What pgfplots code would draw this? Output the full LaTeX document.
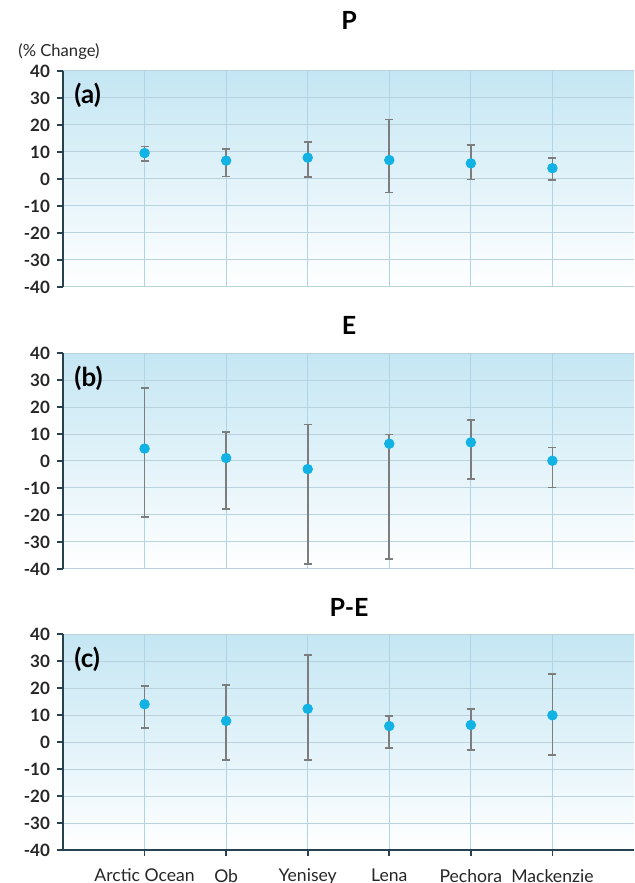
\documentclass[border=0pt]{standalone}
\usepackage{fontspec}
\setmainfont{Lato}
\usepackage{pgfplots}
\usepackage{pgfplotstable}
\pgfplotsset{compat=1.18}

\definecolor{bgtop}{RGB}{196,230,243}
\definecolor{bgmid}{RGB}{228,242,248}
\definecolor{hgrid}{RGB}{185,210,222}
\definecolor{vgrid}{RGB}{175,212,232}
\definecolor{dotc}{RGB}{18,178,228}
\definecolor{errc}{RGB}{125,125,125}
\definecolor{axc}{RGB}{40,65,80}
\definecolor{zeroc}{RGB}{135,135,135}

\pgfplotstableread{
x y lo hi
0 9.6 6.7 12.0
1 6.8 0.9 11.0
2 7.9 0.6 13.8
3 7.0 -5.0 22.0
4 5.8 -0.2 12.6
5 4.0 -0.4 7.9
}\Pdata
\pgfplotstableread{
x y lo hi
0 4.6 -20.8 27.1
1 1.1 -17.8 10.6
2 -3.0 -38.2 13.5
3 6.4 -36.2 9.8
4 6.9 -6.7 15.1
5 0.1 -9.8 5.0
}\Edata
\pgfplotstableread{
x y lo hi
0 14.0 5.1 20.7
1 7.8 -6.8 21.0
2 12.3 -6.8 32.2
3 5.9 -2.1 9.6
4 6.3 -3.0 12.1
5 9.9 -4.8 25.3
}\PEdata

\pgfplotsset{panel/.style={
  scale only axis, width=285.5pt, height=108pt,
  xmin=-1, xmax=6, ymin=-40, ymax=40,
  xtick={0,1,2,3,4,5}, ytick={-40,-30,-20,-10,0,10,20,30,40},
  yticklabels={-40,-30,-20,-10,0,10,20,30,40},
  grid=major,
  x grid style={vgrid, line width=0.45pt},
  y grid style={hgrid, line width=0.5pt},
  axis line style={draw=none},
  tick align=outside,
  ytick pos=left, xtick pos=bottom,
  major tick length=3pt,
  tick style={axc, line width=0.9pt},
  yticklabel style={font=\fontsize{8.5}{9}\selectfont\bfseries, text=black!85},
  xticklabel style={font=\fontsize{8.8}{10}\selectfont, text=black!85, yshift=-3pt},
  axis background/.style={shade, top color=bgtop, middle color=bgmid, bottom color=white},
  extra y ticks={0}, extra y tick labels={},
  extra tick style={grid style={zeroc, line width=1pt}, major tick length=0pt},
  clip=false,
}}
\pgfplotsset{pts/.style={only marks, mark=*, mark size=2.4pt, color=dotc,
  mark options={draw=none, fill=dotc},
  error bars/.cd, y dir=both, y explicit,
  error bar style={errc, line width=0.9pt},
  error mark options={rotate=90, errc, mark size=2pt, line width=0.9pt}}}

\begin{document}
\begin{tikzpicture}
% (a)
\begin{axis}[panel, at={(31.5pt,-35.5pt)}, anchor=north west,
  xticklabels={}, x tick style={draw=none}]
\addplot[pts] table[x=x, y=y, y error plus expr=\thisrow{hi}-\thisrow{y}, y error minus expr=\thisrow{y}-\thisrow{lo}] \Pdata;
\draw[axc, line width=1pt] (rel axis cs:0,0) -- (rel axis cs:0,1);
\node[anchor=west, inner sep=0, xshift=5.5pt, yshift=-12pt, font=\fontsize{13}{14}\selectfont\bfseries] at (rel axis cs:0,1) {(a)};
\end{axis}
% (b)
\begin{axis}[panel, at={(31.5pt,-176.5pt)}, anchor=north west,
  xticklabels={}, x tick style={draw=none}]
\addplot[pts] table[x=x, y=y, y error plus expr=\thisrow{hi}-\thisrow{y}, y error minus expr=\thisrow{y}-\thisrow{lo}] \Edata;
\draw[axc, line width=1pt] (rel axis cs:0,0) -- (rel axis cs:0,1);
\node[anchor=west, inner sep=0, xshift=5.5pt, yshift=-12.5pt, font=\fontsize{13}{14}\selectfont\bfseries] at (rel axis cs:0,1) {(b)};
\end{axis}
% (c)
\begin{axis}[panel, at={(31.5pt,-317pt)}, anchor=north west,
  xticklabels={Arctic Ocean,Ob,Yenisey,Lena,Pechora,Mackenzie}]
\addplot[pts] table[x=x, y=y, y error plus expr=\thisrow{hi}-\thisrow{y}, y error minus expr=\thisrow{y}-\thisrow{lo}] \PEdata;
\draw[axc, line width=1pt] (rel axis cs:0,0) -- (rel axis cs:0,1);
\draw[axc, line width=1pt] (rel axis cs:0,0) -- (rel axis cs:1,0);
\node[anchor=west, inner sep=0, xshift=5.5pt, yshift=-12.5pt, font=\fontsize{13}{14}\selectfont\bfseries] at (rel axis cs:0,1) {(c)};
\end{axis}
\node[font=\fontsize{12.5}{14}\selectfont\bfseries] at (174.5pt,-10pt) {P};
\node[font=\fontsize{12.5}{14}\selectfont\bfseries] at (174.5pt,-162.5pt) {E};
\node[font=\fontsize{12.5}{14}\selectfont\bfseries] at (174.5pt,-303.5pt) {P-E};
\node[anchor=west, inner sep=0, font=\fontsize{8.3}{9}\selectfont, text=black!85] at (9pt,-26pt) {(\% Change)};
\pgfresetboundingbox
\path (0pt,0pt) rectangle (317pt,-441.5pt);
\end{tikzpicture}
\end{document}
